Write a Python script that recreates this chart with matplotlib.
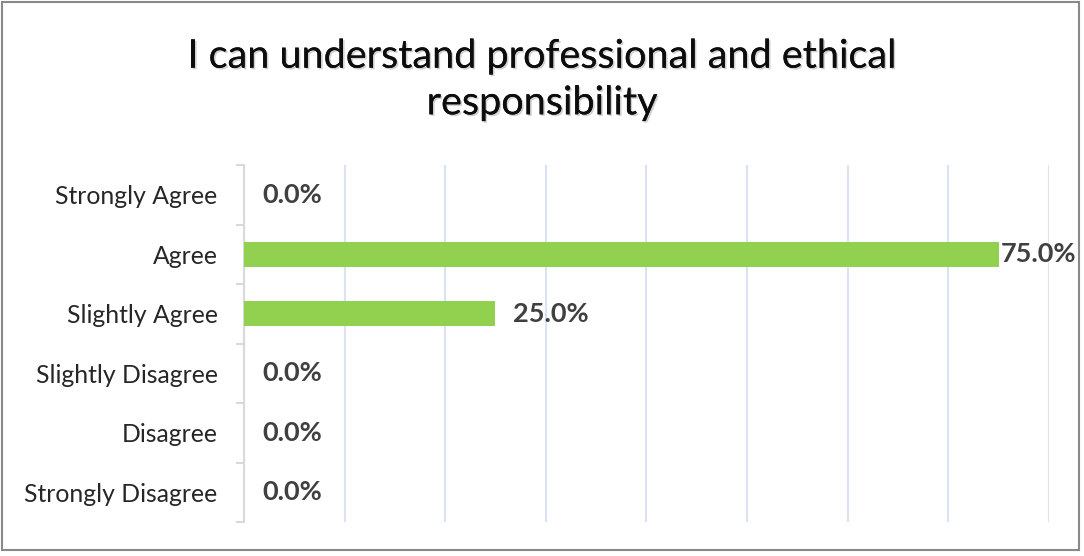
import matplotlib
matplotlib.use("Agg")
import matplotlib.pyplot as plt
import matplotlib.patheffects as pe
from matplotlib.patches import Rectangle
from matplotlib.ticker import MultipleLocator

# data
categories = ["Strongly Agree", "Agree", "Slightly Agree",
              "Slightly Disagree", "Disagree", "Strongly Disagree"]
values = [0.0, 0.75, 0.25, 0.0, 0.0, 0.0]
title = "I can understand professional and ethical\nresponsibility"

plt.rcParams['font.family'] = ['Lato', 'DejaVu Sans']

fig = plt.figure(figsize=(10.84, 5.56), dpi=100)
ax = fig.add_axes([0.225, 0.061, 0.7426, 0.642])

ypos = list(range(len(categories)))
ax.barh(ypos, values, height=0.42, color="#92d050", zorder=3)
ax.set_ylim(len(categories) - 0.5, -0.5)
ax.set_xlim(0, 0.8)

ax.xaxis.set_major_locator(MultipleLocator(0.1))
ax.grid(axis="x", color="#dae3f3", linewidth=1.5, zorder=0)
ax.tick_params(axis="x", length=0, labelbottom=False)

ax.set_yticks(ypos)
ax.set_yticklabels(categories, fontsize=17.8, color="#262626")
ax.set_yticks([y - 0.5 for y in ypos] + [len(categories) - 0.5], minor=True)
ax.tick_params(axis="y", which="major", length=0, pad=19)
ax.tick_params(axis="y", which="minor", length=6, color="#d9d9d9", width=1.5)

for s in ["top", "right", "bottom"]:
    ax.spines[s].set_visible(False)
ax.spines["left"].set_color("#d9d9d9")
ax.spines["left"].set_linewidth(1.5)

for y, v in zip(ypos, values):
    off = 2 if v > 0.7 else 18
    ax.annotate(f"{v*100:.1f}%", (v, y), xytext=(off * 0.72, 0),
                textcoords="offset points", va="center", ha="left",
                fontsize=19.5, fontweight="bold", color="#404040", zorder=4)

fig.text(0.5, 0.857, title, ha="center", va="center", fontsize=28.5,
         color="#0d0d0d", linespacing=1.32,
         path_effects=[pe.withSimplePatchShadow(offset=(1.2, -1.2), alpha=0.18),
                       pe.Normal()])

fig.patches.append(Rectangle((2 / 1084, 6 / 556), 1077 / 1084, 548 / 556,
                             transform=fig.transFigure, fill=False,
                             edgecolor="#898989", linewidth=1.5))

fig.savefig("out.png", dpi=100)
